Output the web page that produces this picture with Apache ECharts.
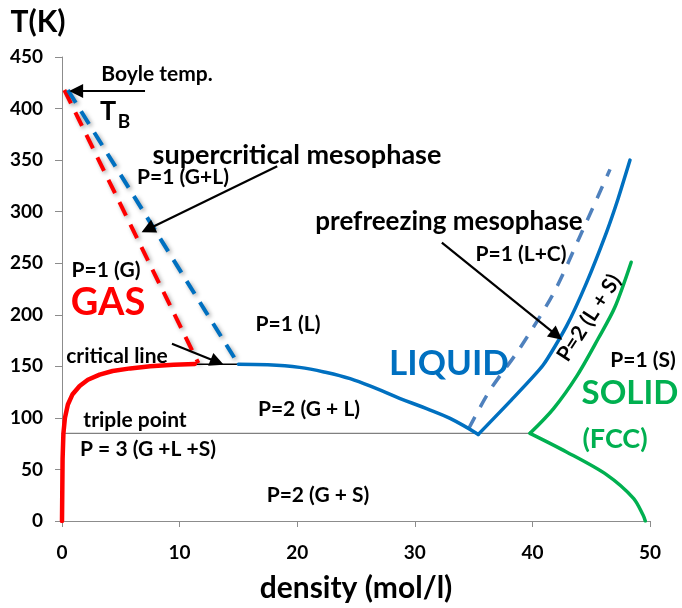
<!DOCTYPE html>
<html>
<head>
<meta charset="utf-8">
<script src="https://cdn.jsdelivr.net/npm/echarts@6/dist/echarts.min.js"></script>
<style>
  html, body { margin: 0; padding: 0; background: #fff; }
  #chart { width: 682px; height: 608px; }
</style>
</head>
<body>
<div id="chart"></div>
<script>
// Phase diagram: temperature vs. density
const xTicks = [0, 10, 20, 30, 40, 50];
const yTicks = [0, 50, 100, 150, 200, 250, 300, 350, 400, 450];

// gas branch of the coexistence curve (density, T)
const gasCurve = [[0,0],[0.05,60],[0.12,85],[0.25,100],[0.5,113],[0.9,123],[1.5,131],[2.2,137],[3.2,142],[4.3,145.5],[5.8,148],[7.5,150],[9.5,151.5],[11.3,152.3]];
// liquid branch of the coexistence curve, down to the triple point
const liquidCurve = [[15,152],[17.5,151.5],[20.2,149],[22.5,144],[24.5,138],[26.6,129],[28.7,119],[31,109],[33,99.5],[35.4,84]];
// liquid side of the melting line
const meltLiquid = [[35.4,84],[38.1,116],[40.9,151],[42.9,189],[44.6,231],[46.3,280],[47.3,313],[48.3,350]];
// solid (FCC) side of the melting line, and the sublimation branch
const meltSolid = [[48.4,251],[47.0,207],[45.6,177],[43.8,141],[41.8,109],[39.8,85]];
const sublimSolid = [[39.8,85],[42.9,67],[46.3,45],[48.6,22],[49.4,6],[49.6,0]];
// prefreezing mesophase boundary
const prefreezeLine = [[34.6,90],[36.4,127],[38.9,167],[41.8,221],[44,275],[46.6,341]];
// supercritical mesophase bounds up to the Boyle temperature
const gasMesoLine = [[0.2,418],[11.6,153]];
const liquidMesoLine = [[0.5,418],[15,152]];
// triple point line and critical line
const tripleLine = [[0,85],[39.8,85]];
const criticalLine = [[11.3,152],[15,152]];

// annotation arrows [from, to] in (density, T)
const arrowLinks = [
  [[7.06,417],[1.2,417]],
  [[18.3,344],[7.3,283]],
  [[9.35,172],[13.2,154.2]],
  [[32.3,270],[42.07,180]]
];

const FONT = 'Lato, "Open Sans", sans-serif';
const shadow = { shadowColor: 'rgba(0,0,0,0.35)', shadowBlur: 4, shadowOffsetX: 2, shadowOffsetY: 2 };

function curve(name, data, color, width, extra, smooth) {
  return {
    name, type: 'line', data, showSymbol: false, symbol: 'none', smooth: smooth || false,
    lineStyle: Object.assign({ color, width, cap: 'round', join: 'round' }, extra || {}),
    silent: true, z: 3
  };
}

function text(t, x, y, size, color, opts) {
  return Object.assign({
    type: 'text', x, y, z: 10,
    style: { text: t, x: 0, y: 0, fill: color || '#000', font: 'bold ' + size + 'px ' + FONT, textAlign: 'center', textVerticalAlign: 'middle' }
  }, opts || {});
}

const chart = echarts.init(document.getElementById('chart'));
chart.setOption({
  animation: false,
  backgroundColor: '#fff',
  grid: { left: 62, right: 32, top: 57, bottom: 85 },
  xAxis: {
    type: 'value', min: xTicks[0], max: xTicks[xTicks.length - 1], interval: 10,
    name: 'density (mol/l)', nameLocation: 'middle', nameGap: 52,
    nameTextStyle: { fontFamily: FONT, fontWeight: 'bold', fontSize: 30, color: '#000' },
    axisLine: { lineStyle: { color: '#8c8c8c', width: 1 } },
    axisTick: { show: true, length: 6, lineStyle: { color: '#8c8c8c' } },
    axisLabel: { margin: 22, fontFamily: FONT, fontWeight: 'bold', fontSize: 19, color: '#000' },
    splitLine: { show: false }
  },
  yAxis: {
    type: 'value', min: yTicks[0], max: yTicks[yTicks.length - 1], interval: 50,
    name: 'T(K)', nameLocation: 'end', nameGap: 35,
    nameTextStyle: { fontFamily: FONT, fontWeight: 'bold', fontSize: 30, color: '#000', align: 'center', verticalAlign: 'middle', padding: [0, 48, 0, 0] },
    axisLine: { show: true, lineStyle: { color: '#8c8c8c', width: 1 } },
    axisTick: { show: true, length: 7, lineStyle: { color: '#8c8c8c' } },
    axisLabel: { margin: 19, fontFamily: FONT, fontWeight: 'bold', fontSize: 19, color: '#000' },
    splitLine: { show: false }
  },
  series: [
    curve('triple', tripleLine, '#808080', 1.2),
    curve('critical', criticalLine, '#000', 1.5),
    curve('gasMeso', gasMesoLine, '#ff0000', 4, Object.assign({ type: [15, 10], cap: 'butt' }, shadow)),
    curve('liquidMeso', liquidMesoLine, '#0070c0', 4, Object.assign({ type: [15, 10], cap: 'butt' }, shadow)),
    curve('prefreeze', prefreezeLine, '#4f81bd', 3.5, { type: [13, 11], cap: 'butt' }, 0.3),
    curve('gas', gasCurve, '#ff0000', 4.5),
    curve('liquid', liquidCurve, '#0070c0', 3.5, null, 0.4),
    curve('meltLiquid', meltLiquid, '#0070c0', 3.5, null, 0.2),
    curve('meltSolid', meltSolid, '#00b050', 3.5, null, 0.3),
    curve('sublimSolid', sublimSolid, '#00b050', 3.5, null, 0.3),
    {
      type: 'lines', coordinateSystem: 'cartesian2d', silent: true, z: 6,
      symbol: ['none', 'triangle'], symbolSize: [11, 14],
      lineStyle: { color: '#000', width: 2.2, opacity: 1, curveness: 0 },
      data: arrowLinks.map(c => ({ coords: c }))
    }
  ],
  graphic: [
    text('Boyle temp.', 157, 74, 21),
    text('T', 108, 111, 27),
    text('B', 124, 122, 19),
    text('supercritical mesophase', 297, 155, 27),
    text('P=1 (G+L)', 183, 177, 21),
    text('P=1 (G)', 106, 270, 21),
    text('GAS', 108, 303, 38, '#ff0000'),
    text('P=1 (L)', 288, 324, 21),
    text('critical line', 117, 356, 21),
    text('P=2 (G + L)', 309, 409, 21),
    text('triple point', 135, 420, 21),
    text('P = 3 (G +L +S)', 148, 449, 21),
    text('P=2 (G + S)', 318, 495, 21),
    text('LIQUID', 449, 364, 35, '#0070c0'),
    text('prefreezing mesophase', 449, 222, 26),
    text('P=1 (L+C)', 521, 254, 21),
    text('P=2 (L + S)', 589, 318, 21, '#000', { rotation: 57 * Math.PI / 180 }),
    text('P=1 (S)', 643, 360, 21),
    text('SOLID', 630, 393, 33, '#00b050'),
    text('(FCC)', 615, 439, 27, '#00b050')
  ]
});
</script>
</body>
</html>
